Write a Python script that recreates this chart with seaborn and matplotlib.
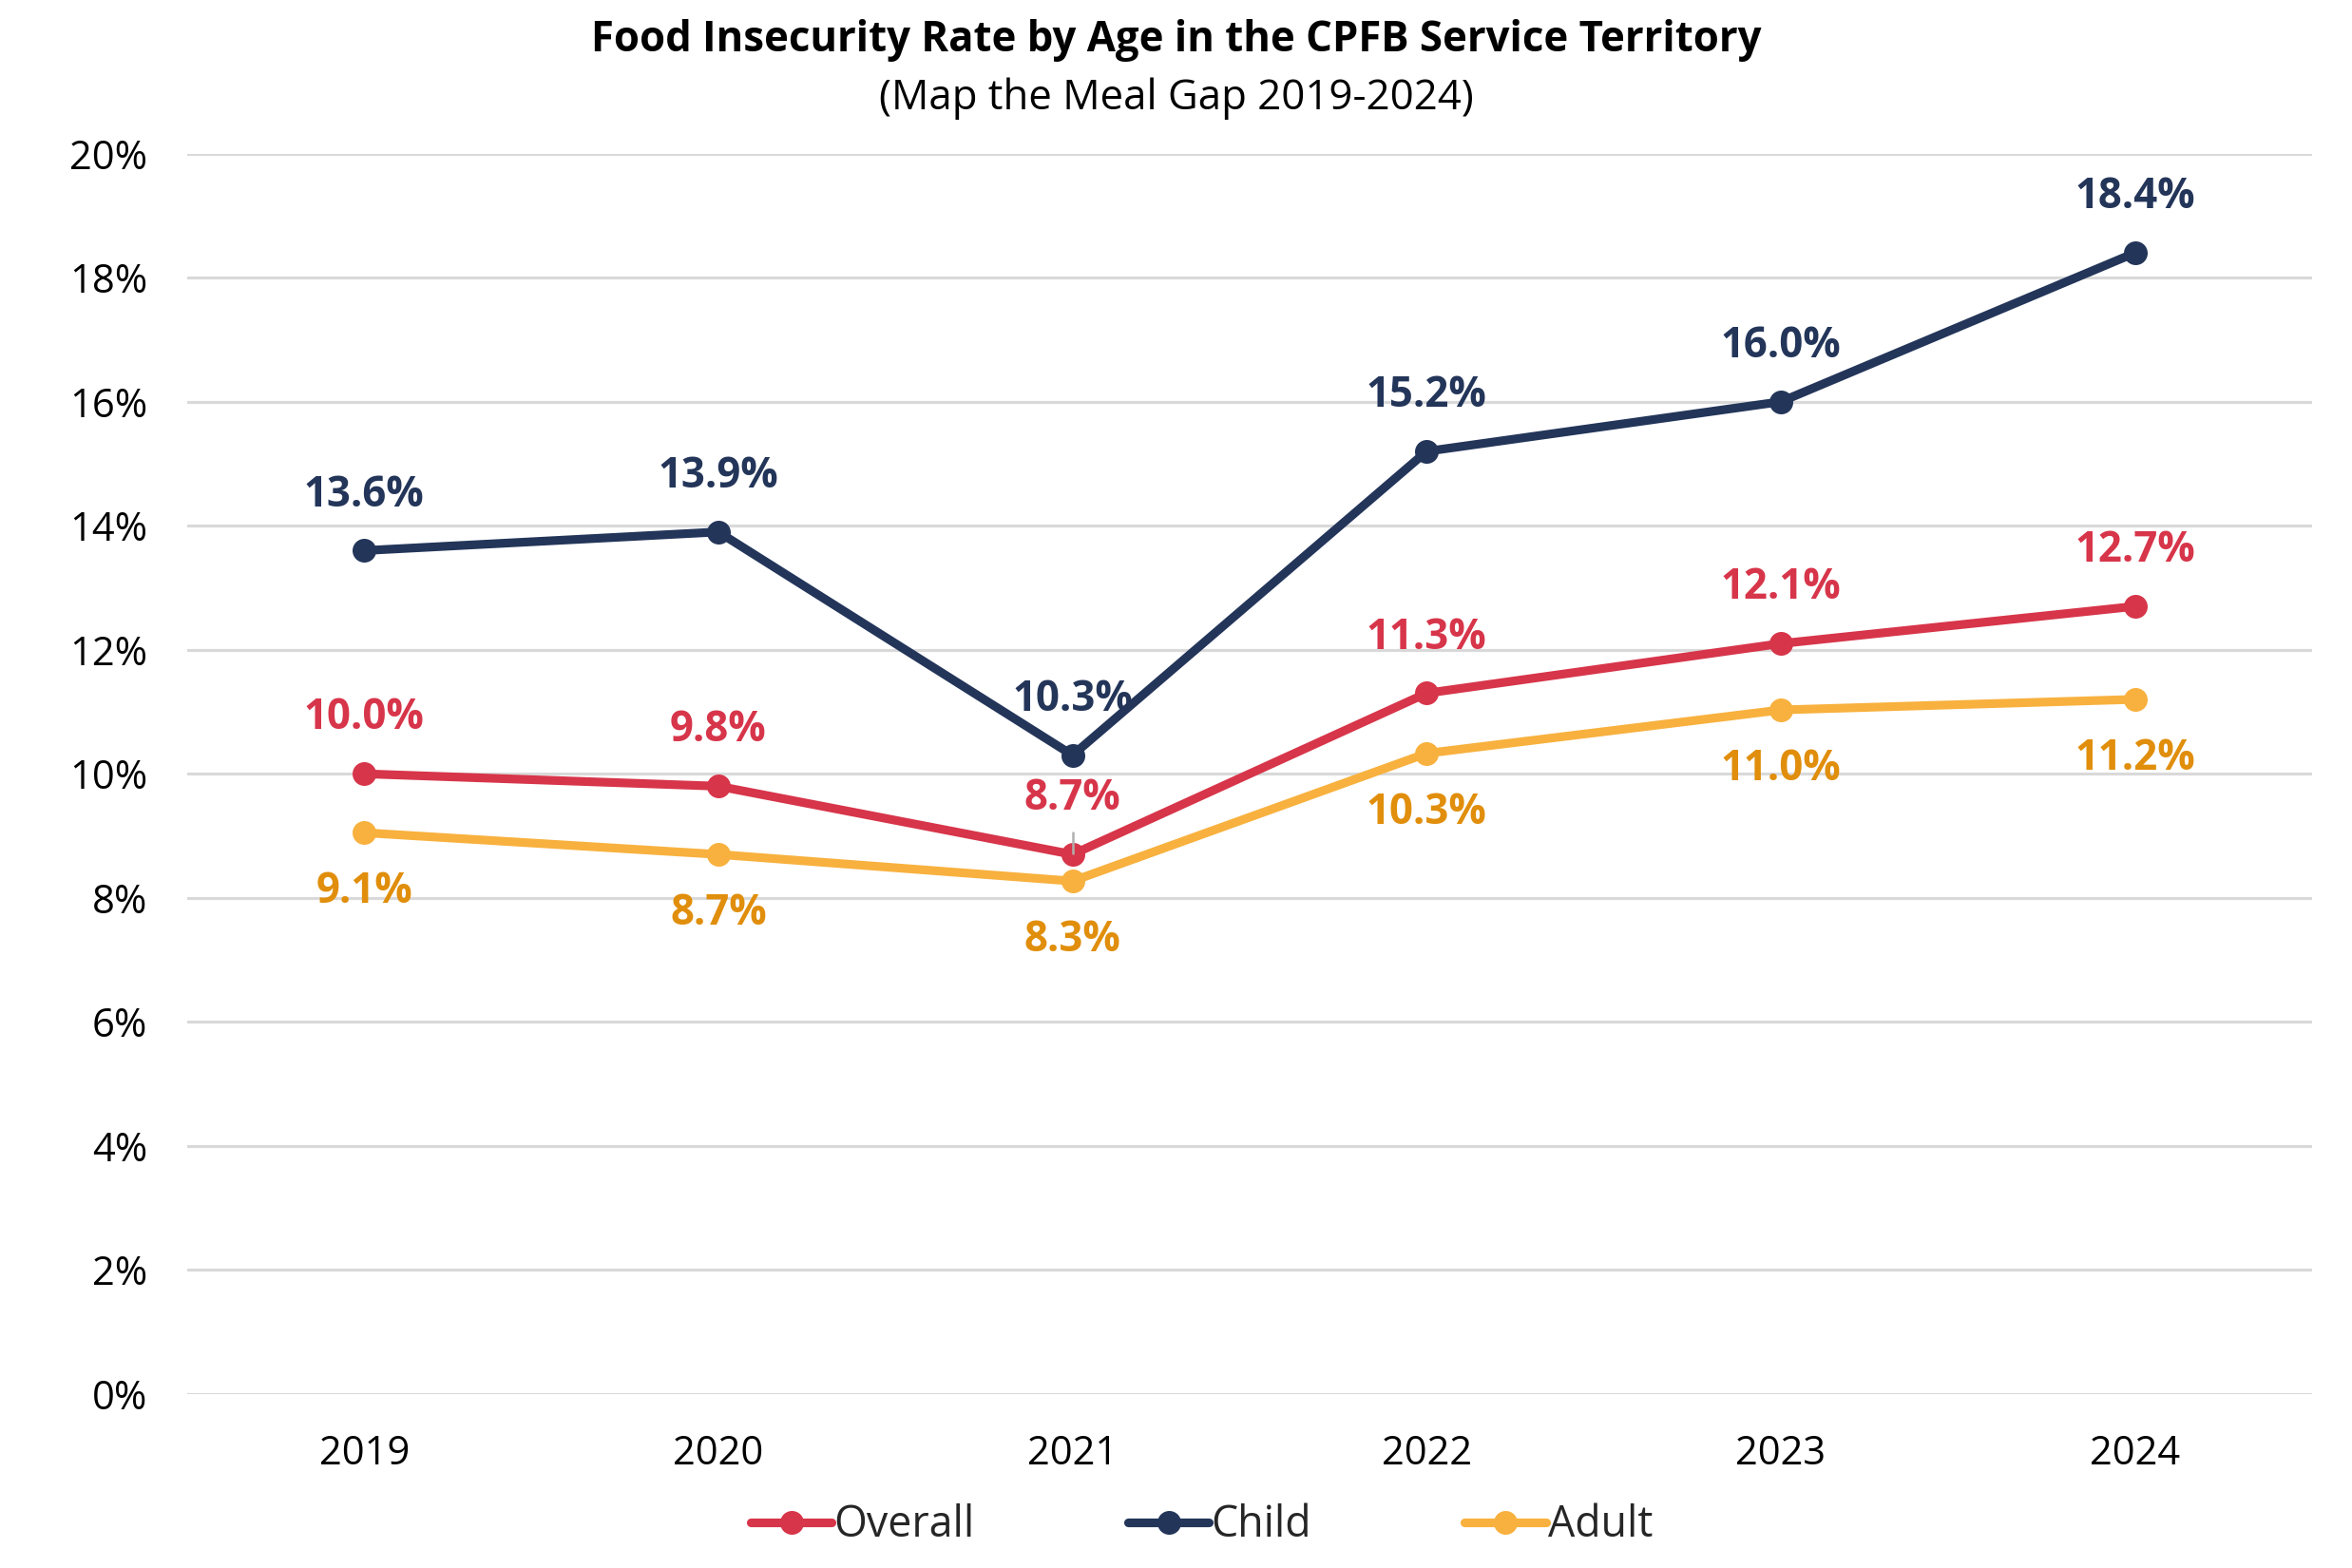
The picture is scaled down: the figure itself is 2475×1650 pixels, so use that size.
import pandas as pd
import matplotlib.pyplot as plt
import seaborn as sns

years = [2019, 2020, 2021, 2022, 2023, 2024]
overall = [10.0, 9.8, 8.7, 11.3, 12.1, 12.7]
child = [13.6, 13.9, 10.3, 15.2, 16.0, 18.4]
adult = [9.05, 8.7, 8.27, 10.33, 11.03, 11.2]

series_names = ["Overall", "Child", "Adult"]
line_colors = {"Overall": "#D7354A", "Child": "#233559", "Adult": "#F8B13E"}
label_colors = {"Overall": "#D7354A", "Child": "#233559", "Adult": "#E08E0B"}

df = pd.concat([
    pd.DataFrame({"Year": years, "Rate": vals, "Series": name})
    for name, vals in zip(series_names, [overall, child, adult])
])

sns.set_theme(style="white")
plt.rcParams["font.family"] = ["Open Sans", "DejaVu Sans"]

fig = plt.figure(figsize=(16.5, 11), dpi=150)
ax = fig.add_axes([0.0796, 0.111, 0.9034, 0.791])

sns.lineplot(data=df, x="Year", y="Rate", hue="Series", hue_order=series_names,
             palette=line_colors, marker="o", markersize=12, markeredgewidth=0,
             linewidth=4.4, ax=ax, legend=True)

# data labels: child & overall above, adult below
offsets = {"Overall": 28, "Child": 28, "Adult": -30}
for name in series_names:
    sub = df[df["Series"] == name]
    for yr, val in zip(sub["Year"], sub["Rate"]):
        ax.annotate(f"{val:.1f}%", (yr, val), xytext=(0, offsets[name]),
                    textcoords="offset points", ha="center", va="center",
                    fontsize=21, fontweight="bold", color=label_colors[name])

# small leader line on 2021 overall label
ax.plot([2021, 2021], [8.72, 9.05], color="#B0B0B0", linewidth=1.2, zorder=5)

ax.set_xlim(2018.5, 2024.5)
ax.set_ylim(0, 20)
ax.set_xticks(years)
ax.set_xticklabels([str(y) for y in years])
ax.set_yticks(range(0, 21, 2))
ax.set_yticklabels([f"{v}%" for v in range(0, 21, 2)])
ax.yaxis.grid(True, color="#D9D9D9", linewidth=1.5)
ax.set_axisbelow(True)
for s in ax.spines.values():
    s.set_visible(False)
ax.tick_params(axis="y", length=0, pad=20, labelsize=20, labelcolor="black")
ax.tick_params(axis="x", length=0, pad=20, labelsize=20, labelcolor="black")
ax.set_xlabel("")
ax.set_ylabel("")

handles, labels = ax.get_legend_handles_labels()
ax.legend_.remove()
fig.legend(handles, labels, loc="center", bbox_to_anchor=(0.511, 0.027), ncol=3,
           frameon=False, fontsize=21.5, handlelength=1.9, handletextpad=0.05,
           columnspacing=3.6)

fig.text(0.5, 0.974, "Food Insecurity Rate by Age in the CPFB Service Territory",
         ha="center", va="center", fontsize=21, fontweight="bold", color="black")
fig.text(0.5, 0.937, "(Map the Meal Gap 2019-2024)", ha="center", va="center",
         fontsize=21, color="black")

fig.savefig("out.png", dpi=150, facecolor="white")
